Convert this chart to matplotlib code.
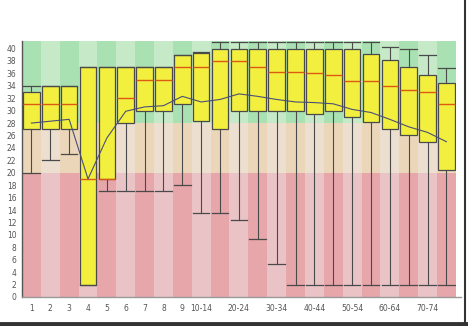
import matplotlib
matplotlib.use("Agg")
import matplotlib.pyplot as plt
from matplotlib.lines import Line2D

# age groups
groups = ["1", "2", "3", "4", "5", "6", "7", "8", "9", "10-14", "15-19",
          "20-24", "25-29", "30-34", "35-39", "40-44", "45-49", "50-54",
          "55-59", "60-64", "65-69", "70-74", "75-79"]
shown = ["1", "2", "3", "4", "5", "6", "7", "8", "9", "10-14", "20-24",
         "30-34", "40-44", "50-54", "60-64", "70-74"]

whis_lo = [20, 22, 23, 2, 17, 17, 17, 17, 18, 13.5, 13.5, 12.4, 9.4, 5.3,
           2, 2, 2, 2, 2, 2, 2, 2, 2]
q1 = [27, 27, 27, 2, 19, 28, 30, 30, 31, 28.4, 27.1, 30, 30, 30, 30, 29.5,
      30, 29, 28.2, 27.1, 26, 25, 20.5]
med = [31, 31, 31, 19, 19, 32, 35, 35, 37, 37.1, 38, 38, 37, 36.3, 36.3, 36,
       35.8, 34.8, 34.7, 34, 33.3, 33, 31]
q3 = [33, 34, 34, 37, 37, 37, 37, 37, 39, 39.3, 40, 40, 40, 40, 40, 40, 40,
      40, 39.1, 38.2, 37, 35.8, 34.5]
whis_hi = [34, 34, 34, 37, 37, 37, 37, 37, 39, 39.5, 41, 41, 41, 41, 41, 41,
           41, 41, 41, 40.3, 40, 38.9, 36.9]
means = [28.0, 28.3, 28.6, 19.0, 25.6, 29.9, 30.6, 30.8, 32.3, 31.4, 31.8,
         32.7, 32.3, 31.8, 31.4, 31.3, 31.1, 30.2, 29.7, 28.6, 27.4, 26.5, 25.0]

# background zones (value ranges)
zones = [(0, 20, "#e6a6aa", "#e9c3c6"),
         (20, 28, "#ebd6b9", "#ecdfd0"),
         (28, 41.2, "#a9e1b2", "#c6e9c7")]

fig = plt.figure(figsize=(4.68, 3.26), dpi=100)
ax = fig.add_axes([0.047, 0.089, 0.927, 0.785])

x = list(range(1, len(groups) + 1))
for lo, hi, dark, light in zones:
    cols = [dark if i % 2 == 0 else light for i in range(len(x))]
    ax.bar(x, hi - lo, bottom=lo, width=1.0, color=cols, linewidth=0, zorder=0)

stats = []
for i in range(len(groups)):
    stats.append({"whislo": whis_lo[i], "q1": q1[i], "med": med[i],
                  "q3": q3[i], "whishi": whis_hi[i], "fliers": []})

ax.bxp(stats, positions=x, widths=0.88, showfliers=False, patch_artist=True,
       boxprops=dict(facecolor="#f3ef3e", edgecolor="#4a4a4a", linewidth=0.9),
       medianprops=dict(color="#dd5a14", linewidth=1.0),
       whiskerprops=dict(color="#4a4a4a", linewidth=0.8),
       capprops=dict(color="#4a4a4a", linewidth=0.9),
       capwidths=0.88, zorder=3)

ax.plot(x, means, color="#4b4f78", linewidth=0.8, zorder=4)

ax.set_xlim(0.5, len(groups) + 0.5)
ax.set_ylim(0, 41.2)
ax.set_yticks(range(0, 41, 2))
ax.set_xticks([x[groups.index(g)] for g in shown])
ax.set_xticklabels(shown)
ax.tick_params(axis="both", length=0, labelsize=5.5, labelcolor="#555555")
ax.tick_params(axis="y", pad=4)
ax.tick_params(axis="x", pad=5)

for s in ["top", "right"]:
    ax.spines[s].set_visible(False)
ax.spines["left"].set_color("#555555")
ax.spines["left"].set_linewidth(1.0)
ax.spines["bottom"].set_color("#999999")
ax.spines["bottom"].set_linewidth(1.0)
ax.spines["bottom"].set_bounds(0.5, len(groups) + 0.75)

# window border of the screenshot
fig.add_artist(Line2D([0, 1], [0.006, 0.006], color="#333333", linewidth=3.5))
fig.add_artist(Line2D([0.994, 0.994], [0, 1], color="#333333", linewidth=1.5))

plt.savefig("out.png", dpi=100)
